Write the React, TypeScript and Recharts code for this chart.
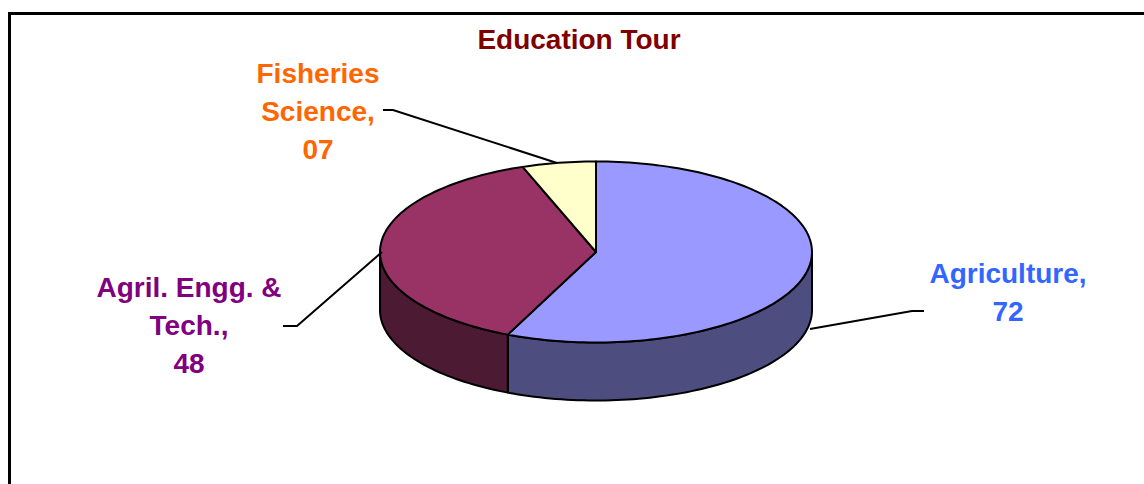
import React from 'react';
import { PieChart, Pie } from 'recharts';

// values
const CATEGORIES = ['Agriculture', 'Agril. Engg. & Tech.', 'Fisheries Science'];
const VALUES = [72, 48, 7];
const LABEL_TEXT = [['Agriculture,'], ['Agril. Engg. &', 'Tech.,'], ['Fisheries', 'Science,']];

const TOP_COLORS = ['#9999FF', '#993366', '#FFFFCC'];
const SIDE_COLORS = ['#4D4D80', '#4D1A33', '#80805F'];
const TEXT_COLORS = ['#3366FF', '#800080', '#FF6600'];

// label placement (page pixels): text centre, first baseline, leader line
const LABEL_LAYOUT = [
    { x: 1008, y: 283, line: [[810, 329], [912, 311], [924, 311]] },
    { x: 189, y: 297, line: [[382, 252], [297, 326], [283, 326]] },
    { x: 318, y: 83, line: [[557, 163], [393, 110], [383, 110]] },
];

const TILT = 90.5 / 216;
const DEPTH = 58;
const RAD = Math.PI / 180;
const FONT = '"Liberation Sans", Arial, sans-serif';

const pieData = CATEGORIES.map((name, i) => ({ name, value: VALUES[i] }));

const arc = (cx: number, cy: number, rx: number, ry: number, a1: number, a2: number, dy = 0) => {
    const n = Math.max(2, Math.ceil(Math.abs(a2 - a1) / 1.5));
    const pts: string[] = [];
    for (let k = 0; k <= n; k++) {
        const a = (a1 + ((a2 - a1) * k) / n) * RAD;
        pts.push(`${(cx + rx * Math.cos(a)).toFixed(2)},${(cy - ry * Math.sin(a) + dy).toFixed(2)}`);
    }
    return pts;
};

const Sector3D = (props: any) => {
    const { cx, cy, outerRadius, startAngle, endAngle } = props;
    const name = props.name ?? props.payload?.name;
    const i = Math.max(0, CATEGORIES.indexOf(name));
    const rx = outerRadius;
    const ry = outerRadius * TILT;
    const lo = Math.min(startAngle, endAngle);
    const hi = Math.max(startAngle, endAngle);

    // side wall only where the rim faces the viewer
    const walls: string[] = [];
    for (let k = -2; k <= 2; k++) {
        const a = Math.max(lo, -180 + 360 * k);
        const b = Math.min(hi, 360 * k);
        if (b > a) {
            const top = arc(cx, cy, rx, ry, a, b);
            const bottom = arc(cx, cy, rx, ry, b, a, DEPTH);
            walls.push(`M${top.join('L')}L${bottom.join('L')}Z`);
        }
    }
    const topPath = `M${cx},${cy}L${arc(cx, cy, rx, ry, startAngle, endAngle).join('L')}Z`;

    return (
        <g>
            {walls.map((d, k) => (
                <path key={k} d={d} fill={SIDE_COLORS[i]} stroke="#000" strokeWidth={2} strokeLinejoin="round" />
            ))}
            <path d={topPath} fill={TOP_COLORS[i]} stroke="#000" strokeWidth={2} strokeLinejoin="round" />
        </g>
    );
};

const renderLabel = (props: any) => {
    const name = props.name ?? props.payload?.name;
    const i = Math.max(0, CATEGORIES.indexOf(name));
    const layout = LABEL_LAYOUT[i];
    const lines = [...LABEL_TEXT[i], String(props.value ?? VALUES[i]).padStart(2, '0')];
    return (
        <g key={`label-${i}`}>
            <polyline
                points={layout.line.map((p) => p.join(',')).join(' ')}
                fill="none"
                stroke="#000"
                strokeWidth={2}
            />
            <text
                x={layout.x}
                y={layout.y}
                textAnchor="middle"
                fill={TEXT_COLORS[i]}
                fontFamily={FONT}
                fontWeight="bold"
                fontSize={28}
            >
                {lines.map((t, k) => (
                    <tspan key={k} x={layout.x} dy={k === 0 ? 0 : 38}>
                        {t}
                    </tspan>
                ))}
            </text>
        </g>
    );
};

const App: React.FC = () => {
    return (
        <div
            style={{
                position: 'absolute',
                left: 0,
                top: 0,
                width: 1144,
                height: 484,
                overflow: 'hidden',
                background: '#fff',
            }}
        >
            <div
                style={{
                    position: 'absolute',
                    left: 8,
                    top: 12,
                    width: 1200,
                    height: 520,
                    border: '3px solid #000',
                }}
            />
            <div
                style={{
                    position: 'absolute',
                    left: 0,
                    width: 1158,
                    top: 26,
                    textAlign: 'center',
                    fontFamily: FONT,
                    fontWeight: 'bold',
                    fontSize: 28,
                    lineHeight: '28px',
                    color: '#800000',
                }}
            >
                Education Tour
            </div>
            <div style={{ position: 'absolute', left: 0, top: 0 }}>
                <PieChart width={1144} height={484} margin={{ top: 0, right: 0, bottom: 0, left: 0 }}>
                    <Pie
                        data={pieData}
                        dataKey="value"
                        nameKey="name"
                        cx={596}
                        cy={252}
                        outerRadius={216}
                        startAngle={90}
                        endAngle={-270}
                        stroke="#000"
                        shape={Sector3D}
                        label={renderLabel}
                        labelLine={false}
                        isAnimationActive={false}
                    />
                </PieChart>
            </div>
        </div>
    );
};

export default App;
